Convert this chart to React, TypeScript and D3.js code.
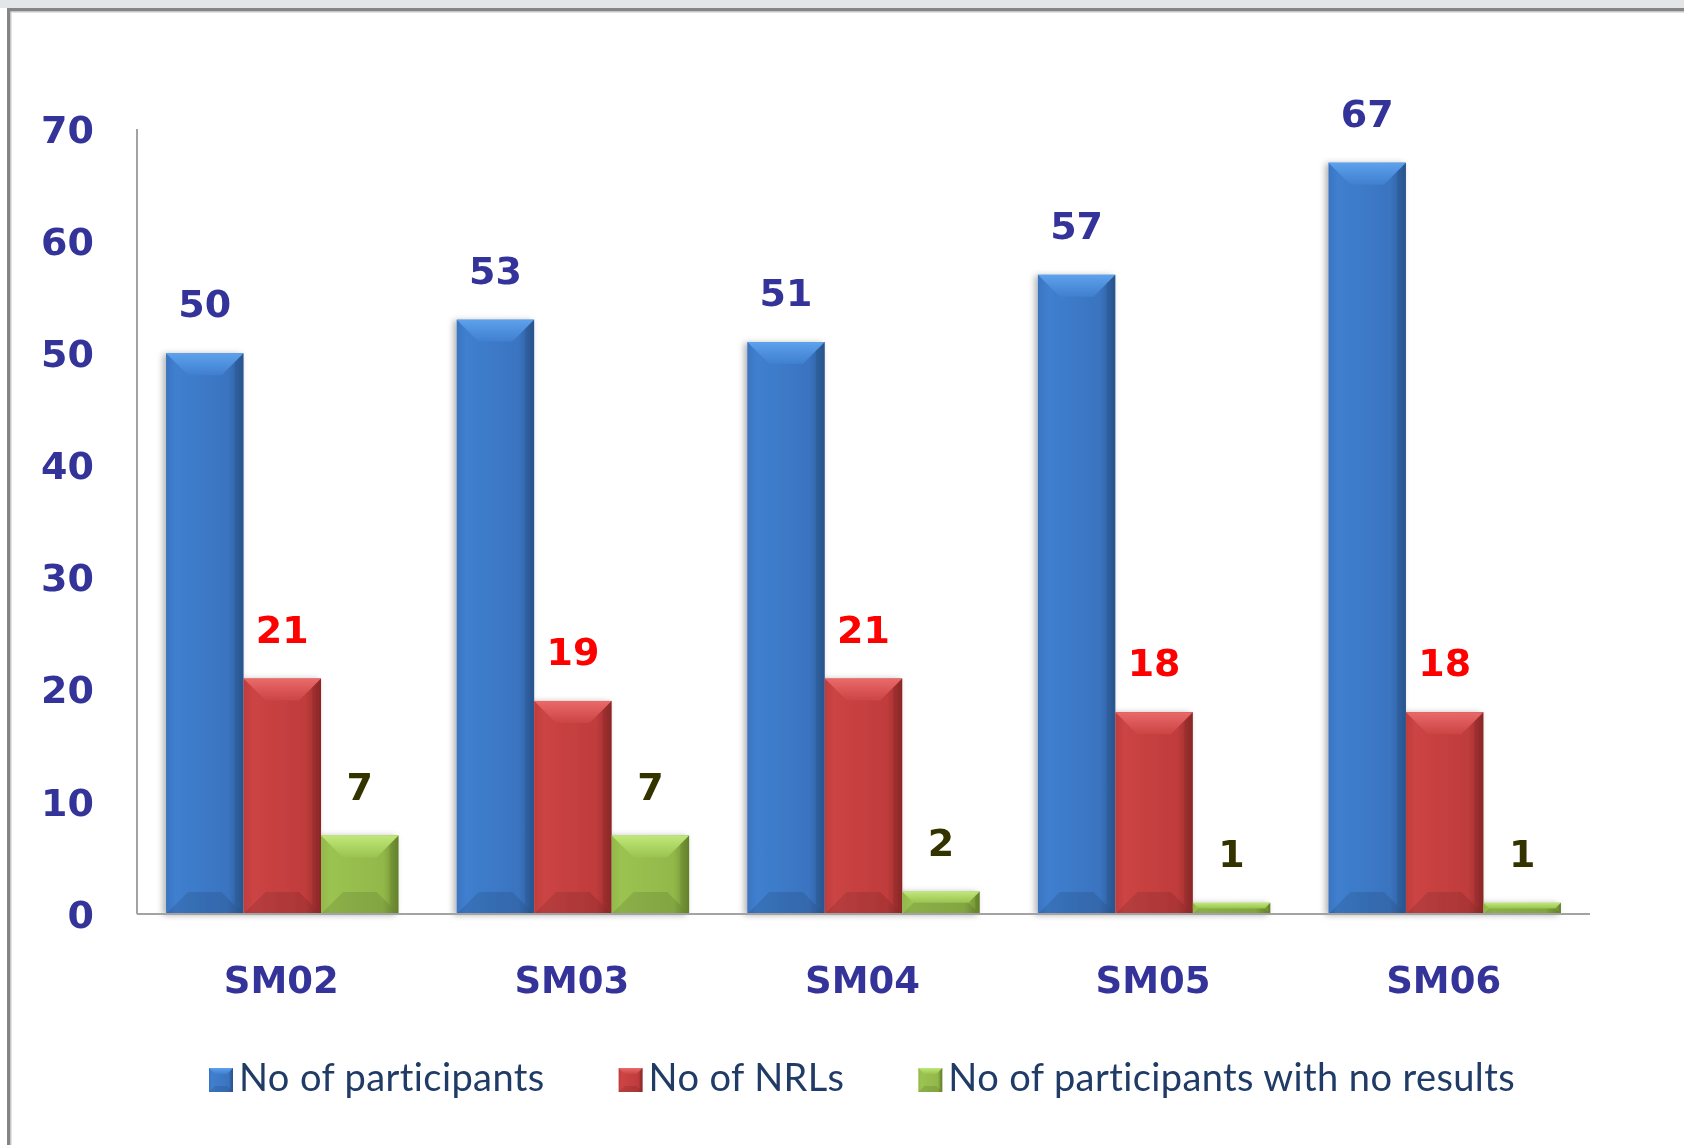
import { useEffect, useRef } from "react";
import * as d3 from "d3";

const W = 1684;
const H = 1145;
const PLOT = { left: 137, right: 1590, top: 129, bottom: 914 };

const categories = ["SM02", "SM03", "SM04", "SM05", "SM06"];
const participants = [50, 53, 51, 57, 67];
const nrls = [21, 19, 21, 18, 18];
const noResults = [7, 7, 2, 1, 1];
const yTicks = [0, 10, 20, 30, 40, 50, 60, 70];
const seriesNames = ["No of participants", "No of NRLs", "No of participants with no results"];

const TICK_FILL = "#333399";
const LEGEND_FILL = "#1f3b66";
const BOLD_FONT = "'DejaVu Sans', Verdana, sans-serif";
const LEGEND_FONT = "Lato, 'Open Sans', sans-serif";

type Series = {
  id: string;
  name: string;
  values: number[];
  dark: string;
  mid: string;
  light: string;
  top: string;
  labelFill: string;
};

const SERIES: Series[] = [
  { id: "blue", name: seriesNames[0], values: participants, dark: "#2d5b98", mid: "#3a74c0", light: "#3f7fcf", top: "#5ea1ec", labelFill: "#333399" },
  { id: "red", name: seriesNames[1], values: nrls, dark: "#962b2b", mid: "#c03c3c", light: "#cc4444", top: "#ea6a6a", labelFill: "#ff0000" },
  { id: "green", name: seriesNames[2], values: noResults, dark: "#6c8c2e", mid: "#92b84a", light: "#9bc351", top: "#bfe878", labelFill: "#333300" },
];

// one bevelled bar: face gradient, light top facet, soft darker bottom facet
function bevelBar(g: any, s: Series, x: number, y: number, w: number, h: number, maxB: number) {
  const b = Math.min(maxB, w / 2, h / 2);
  g.append("rect")
    .attr("x", x).attr("y", y).attr("width", w).attr("height", h)
    .attr("fill", `url(#face-${s.id})`);
  const poly = (pts: number[][], fill: string, op: number) =>
    g.append("polygon")
      .attr("points", pts.map((p) => p.join(",")).join(" "))
      .attr("fill", fill)
      .attr("opacity", op);
  poly([[x, y], [x + w, y], [x + w - b, y + b], [x + b, y + b]], `url(#top-${s.id})`, 1);
  poly([[x, y + h], [x + w, y + h], [x + w - b, y + h - b], [x + b, y + h - b]], "#000", 0.1);
  poly([[x + w, y], [x + w - b * 0.4, y + b * 0.4], [x + w - b * 0.4, y + h - b * 0.4], [x + w, y + h]], "#000", 0.08);
}

export default function App() {
  const svgRef = useRef<SVGSVGElement | null>(null);

  useEffect(() => {
    const svg = d3.select(svgRef.current);
    svg.selectAll("*").remove();

    const defs = svg.append("defs");
    SERIES.forEach((s) => {
      const face = defs.append("linearGradient").attr("id", `face-${s.id}`)
        .attr("x1", 0).attr("x2", 1).attr("y1", 0).attr("y2", 0);
      face.append("stop").attr("offset", "0%").attr("stop-color", s.mid);
      face.append("stop").attr("offset", "12%").attr("stop-color", s.light);
      face.append("stop").attr("offset", "80%").attr("stop-color", s.mid);
      face.append("stop").attr("offset", "100%").attr("stop-color", s.dark);
      const top = defs.append("linearGradient").attr("id", `top-${s.id}`)
        .attr("x1", 0).attr("x2", 0).attr("y1", 0).attr("y2", 1);
      top.append("stop").attr("offset", "0%").attr("stop-color", s.top);
      top.append("stop").attr("offset", "100%").attr("stop-color", s.light);
    });
    const shadow = defs.append("filter").attr("id", "barShadow")
      .attr("x", "-20%").attr("y", "-5%").attr("width", "140%").attr("height", "110%");
    shadow.append("feDropShadow").attr("dx", -3).attr("dy", 1).attr("stdDeviation", 3)
      .attr("flood-color", "#000").attr("flood-opacity", 0.3);

    // frame
    svg.append("rect").attr("x", 0).attr("y", 0).attr("width", W).attr("height", H).attr("fill", "#fff");
    svg.append("rect").attr("x", 0).attr("y", 0).attr("width", W).attr("height", 8).attr("fill", "#e3e6e8");
    svg.append("rect").attr("x", 7).attr("y", 8).attr("width", W - 7).attr("height", 3.5).attr("fill", "#858585");
    svg.append("rect").attr("x", 7).attr("y", 8).attr("width", 3.5).attr("height", H - 8).attr("fill", "#858585");
    svg.append("rect").attr("x", 10.5).attr("y", 11.5).attr("width", W).attr("height", 1).attr("fill", "#c8c8c8");
    svg.append("rect").attr("x", 10.5).attr("y", 11.5).attr("width", 1).attr("height", H).attr("fill", "#c8c8c8");

    const x0 = d3.scaleBand<string>().domain(categories)
      .range([PLOT.left, PLOT.right]).paddingInner(0.2).paddingOuter(0.1);
    const x1 = d3.scaleBand<string>().domain(SERIES.map((s) => s.id))
      .range([0, x0.bandwidth()]).padding(0);
    const y = d3.scaleLinear().domain([0, 70]).range([PLOT.bottom, PLOT.top]);

    // bars
    const barsG = svg.append("g").attr("filter", "url(#barShadow)");
    SERIES.forEach((s) => {
      categories.forEach((c, i) => {
        const v = s.values[i];
        const bx = (x0(c) ?? 0) + (x1(s.id) ?? 0);
        bevelBar(barsG.append("g"), s, bx, y(v), x1.bandwidth(), y(0) - y(v), 22);
      });
    });

    // axes
    svg.append("line").attr("x1", PLOT.left).attr("x2", PLOT.left)
      .attr("y1", y(70)).attr("y2", y(0)).attr("stroke", "#a3a3a3").attr("stroke-width", 2);
    svg.append("line").attr("x1", PLOT.left).attr("x2", PLOT.right)
      .attr("y1", y(0)).attr("y2", y(0)).attr("stroke", "#a3a3a3").attr("stroke-width", 2);

    svg.append("g").selectAll("text").data(yTicks).join("text")
      .attr("x", 94).attr("y", (d) => y(d)).attr("dy", "0.36em")
      .attr("text-anchor", "end")
      .attr("font-family", BOLD_FONT).attr("font-weight", 700).attr("font-size", 38)
      .attr("fill", TICK_FILL)
      .text((d) => d);

    svg.append("g").selectAll("text").data(categories).join("text")
      .attr("x", (d) => (x0(d) ?? 0) + x0.bandwidth() / 2 - 1)
      .attr("y", 993)
      .attr("text-anchor", "middle")
      .attr("font-family", BOLD_FONT).attr("font-weight", 700).attr("font-size", 37)
      .attr("fill", TICK_FILL)
      .text((d) => d);

    // value labels
    SERIES.forEach((s) => {
      svg.append("g").selectAll("text").data(categories).join("text")
        .attr("x", (c) => (x0(c) ?? 0) + (x1(s.id) ?? 0) + x1.bandwidth() / 2)
        .attr("y", (c, i) => y(s.values[i]) - 36)
        .attr("text-anchor", "middle")
        .attr("font-family", BOLD_FONT).attr("font-weight", 700).attr("font-size", 38)
        .attr("fill", s.labelFill)
        .text((c, i) => s.values[i]);
    });

    // legend
    const legend = svg.append("g");
    let lx = 209;
    SERIES.forEach((s) => {
      const item = legend.append("g");
      bevelBar(item, s, lx, 1068, 24, 24, 6);
      const t = item.append("text")
        .attr("x", lx + 30).attr("y", 1091)
        .attr("font-family", LEGEND_FONT).attr("font-size", 38)
        .attr("letter-spacing", 0.4)
        .attr("fill", LEGEND_FILL)
        .text(s.name);
      const tw = (t.node() as SVGTextElement).getComputedTextLength();
      lx += 30 + tw + 74;
    });
  }, []);

  return (
    <div>
      <style>{"body{margin:0}"}</style>
      <svg ref={svgRef} width={W} height={H} style={{ display: "block" }} role="img" aria-label="Participants per round" />
    </div>
  );
}
